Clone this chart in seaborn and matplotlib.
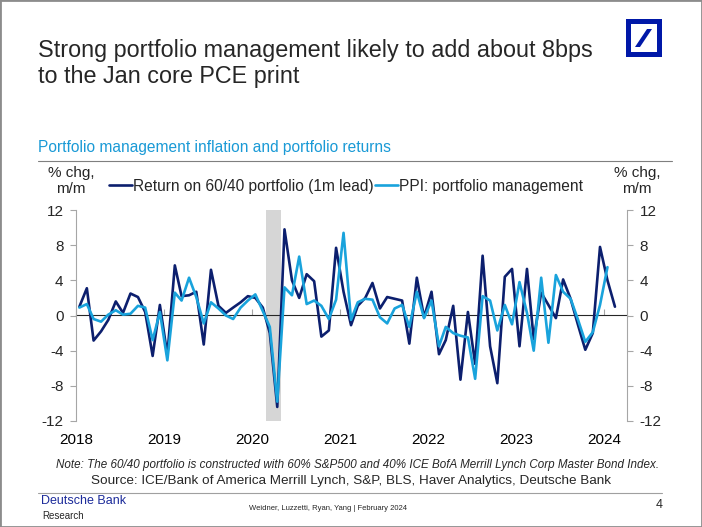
import numpy as np
import pandas as pd
import matplotlib
matplotlib.use('Agg')
import matplotlib.pyplot as plt
import matplotlib.dates as mdates
from matplotlib.patches import Rectangle, Polygon
from matplotlib.lines import Line2D
import seaborn as sns

# ---------------------------------------------------------------------------
# Data (monthly from Jan 2018)
# ---------------------------------------------------------------------------
dark_label = 'Return on 60/40 portfolio (1m lead)'
light_label = 'PPI: portfolio management'

return_6040 = [1.0, 3.1, -2.85, -1.8, -0.5, 1.6, 0.3, 2.5, 2.1, 0.4,
               -4.6, 1.2, -4.5, 5.7, 2.2, 2.3, 2.7, -3.3, 5.2, 1.1,
               0.3, 0.9, 1.5, 2.2, 2.0, 0.9, -2.0, -10.4, 9.8, 4.0,
               2.0, 4.7, 3.9, -2.4, -1.7, 7.7, 2.7, -1.1, 1.1, 2.0,
               3.7, 0.8, 2.1, 1.9, 1.7, -3.2, 4.3, -0.2, 2.7, -4.4,
               -2.8, 1.1, -7.3, 0.4, -5.5, 6.8, -3.5, -7.7, 4.4, 5.3,
               -3.5, 5.3, -2.7, 2.6, 1.2, -0.3, 4.1, 1.9, -1.1, -3.9,
               -2.0, 7.8, 4.0, 1.0]

ppi_portfolio = [0.9, 1.3, -0.4, -0.7, 0.1, 0.6, 0.1, 0.2, 1.1, 0.9,
                 -2.8, 0.4, -5.1, 2.6, 1.7, 4.3, 2.1, -0.9, 1.5, 0.8,
                 0.0, -0.4, 0.9, 1.7, 2.4, 0.5, -1.3, -9.8, 3.2, 2.3,
                 6.7, 1.3, 1.7, 1.1, -0.4, 1.8, 9.4, -0.5, 1.5, 1.9,
                 1.8, -0.2, -0.9, 0.8, 1.2, -1.3, 2.7, -0.3, 1.7, -3.5,
                 -1.3, -2.0, -2.3, -2.5, -7.2, 2.2, 1.7, -1.7, 1.2, -1.0,
                 3.8, 0.3, -4.0, 4.3, -3.1, 4.6, 2.7, 1.9, -0.5, -3.0,
                 -1.9, 1.2, 5.5]

recession_start = '2020-03-01'
recession_end = '2020-05-01'
y_ticks = [-12, -8, -4, 0, 4, 8, 12]

dates_dark = pd.date_range('2018-01-01', periods=len(return_6040), freq='MS') + pd.Timedelta(days=14)
dates_light = pd.date_range('2018-01-01', periods=len(ppi_portfolio), freq='MS') + pd.Timedelta(days=14)

df = pd.concat([
    pd.DataFrame({'date': dates_dark, 'value': return_6040, 'series': dark_label}),
    pd.DataFrame({'date': dates_light, 'value': ppi_portfolio, 'series': light_label}),
])

DARK = '#0C1F6E'
LIGHT = '#19A3DC'
GREY = '#A6A6A6'
DB_BLUE = '#0018A8'

# ---------------------------------------------------------------------------
# Figure
# ---------------------------------------------------------------------------
sns.set_style('white')
plt.rcParams['font.family'] = ['Liberation Sans', 'DejaVu Sans']
plt.rcParams['axes.unicode_minus'] = False

W, H = 702, 527
fig = plt.figure(figsize=(W / 100, H / 100), dpi=100)


def fx(px):
    return px / W


def fy(py):
    return 1 - py / H


ax = fig.add_axes([fx(76), fy(421), fx(627) - fx(76), fy(210) - fy(421)])

ax.axvspan(pd.Timestamp(recession_start), pd.Timestamp(recession_end),
           color='#D6D6D6', lw=0, zorder=0)

sns.lineplot(data=df, x='date', y='value', hue='series',
             palette={dark_label: DARK, light_label: LIGHT},
             linewidth=1.9, ax=ax, zorder=3)

ax.set_xlim(pd.Timestamp('2018-01-01'), pd.Timestamp('2024-04-05'))
ax.set_ylim(-12, 12)
ax.set_yticks(y_ticks)
ax.set_xlabel('')
ax.set_ylabel('')
ax.xaxis.set_major_locator(mdates.YearLocator())
ax.xaxis.set_major_formatter(mdates.DateFormatter('%Y'))
ax.tick_params(axis='x', length=0, pad=9, labelsize=11, colors='black')
ax.tick_params(axis='y', direction='out', length=4, width=0.8, color=GREY,
               pad=5, labelsize=11)
for s in ['top', 'bottom', 'right']:
    ax.spines[s].set_visible(False)
ax.spines['left'].set_color(GREY)
ax.spines['left'].set_linewidth(0.8)

# zero line with year ticks
secax = ax.secondary_xaxis(0.5)
secax.xaxis.set_major_locator(mdates.YearLocator())
secax.xaxis.set_major_formatter(matplotlib.ticker.NullFormatter())
secax.tick_params(direction='out', length=4, width=0.8, color=GREY)
secax.spines['bottom'].set_color(GREY)
secax.spines['bottom'].set_linewidth(0.8)

# right axis
ax2 = ax.twinx()
ax2.set_ylim(-12, 12)
ax2.set_yticks(y_ticks)
ax2.tick_params(axis='y', direction='out', length=4, width=0.8, color=GREY,
                pad=5, labelsize=11)
for s in ['top', 'bottom', 'left']:
    ax2.spines[s].set_visible(False)
ax2.spines['right'].set_color(GREY)
ax2.spines['right'].set_linewidth(0.8)

# legend
ax.get_legend().remove()
handles = [Line2D([], [], color=DARK, lw=1.9), Line2D([], [], color=LIGHT, lw=1.9)]
fig.legend(handles, [dark_label, light_label], loc='center left',
           bbox_to_anchor=(fx(109), fy(186)), ncol=2, frameon=False,
           fontsize=11.2, handlelength=1.45, handletextpad=0.1,
           columnspacing=0.1, borderpad=0, borderaxespad=0)

# axis unit labels
fig.text(fx(71), fy(181), '% chg,\nm/m', ha='center', va='center', fontsize=11,
         linespacing=1.15)
fig.text(fx(637), fy(181), '% chg,\nm/m', ha='center', va='center', fontsize=11,
         linespacing=1.15)

# ---------------------------------------------------------------------------
# Slide decoration
# ---------------------------------------------------------------------------
fig.text(fx(38), fy(39), 'Strong portfolio management likely to add about 8bps\n'
         'to the Jan core PCE print', ha='left', va='top', fontsize=16.8,
         linespacing=1.15)
fig.text(fx(38), fy(148), 'Portfolio management inflation and portfolio returns',
         ha='left', va='center', fontsize=11.2, color='#1A9AD6')
fig.add_artist(Line2D([fx(38), fx(672)], [fy(161), fy(161)], color='#7F7F7F', lw=0.8))

# logo
fig.add_artist(Rectangle((fx(626), fy(57)), fx(36), fy(19) - fy(57),
                         transform=fig.transFigure, color=DB_BLUE, lw=0))
fig.add_artist(Rectangle((fx(631), fy(52)), fx(26), fy(24) - fy(52),
                         transform=fig.transFigure, color='white', lw=0))
fig.add_artist(Polygon([(fx(635), fy(47)), (fx(640), fy(47)), (fx(652), fy(29)), (fx(647), fy(29))],
                       closed=True, transform=fig.transFigure, color=DB_BLUE, lw=0))

# footer
fig.text(fx(358), fy(465), 'Note: The 60/40 portfolio is constructed with 60% S&P500 and 40% '
         'ICE BofA Merrill Lynch Corp Master Bond Index.', ha='center', va='center',
         fontsize=8.4, style='italic')
fig.text(fx(351), fy(481), 'Source: ICE/Bank of America Merrill Lynch, S&P, BLS, Haver '
         'Analytics, Deutsche Bank', ha='center', va='center', fontsize=9.7)
fig.add_artist(Line2D([fx(38), fx(662)], [fy(493), fy(493)], color='#A0A0A0', lw=0.8))
fig.text(fx(41), fy(501), 'Deutsche Bank', ha='left', va='center', fontsize=9,
         color='#1C2B9A')
fig.text(fx(42), fy(516), 'Research', ha='left', va='center', fontsize=7)
fig.text(fx(328), fy(509), 'Weidner, Luzzetti, Ryan, Yang | February 2024',
         ha='center', va='center', fontsize=5.5)
fig.text(fx(659), fy(505), '4', ha='center', va='center', fontsize=9)

# slide border
fig.add_artist(Rectangle((0, 0), 1, 1, transform=fig.transFigure, fill=False,
                         edgecolor='#8C8C8C', lw=2))

fig.savefig('out.png', dpi=100)
